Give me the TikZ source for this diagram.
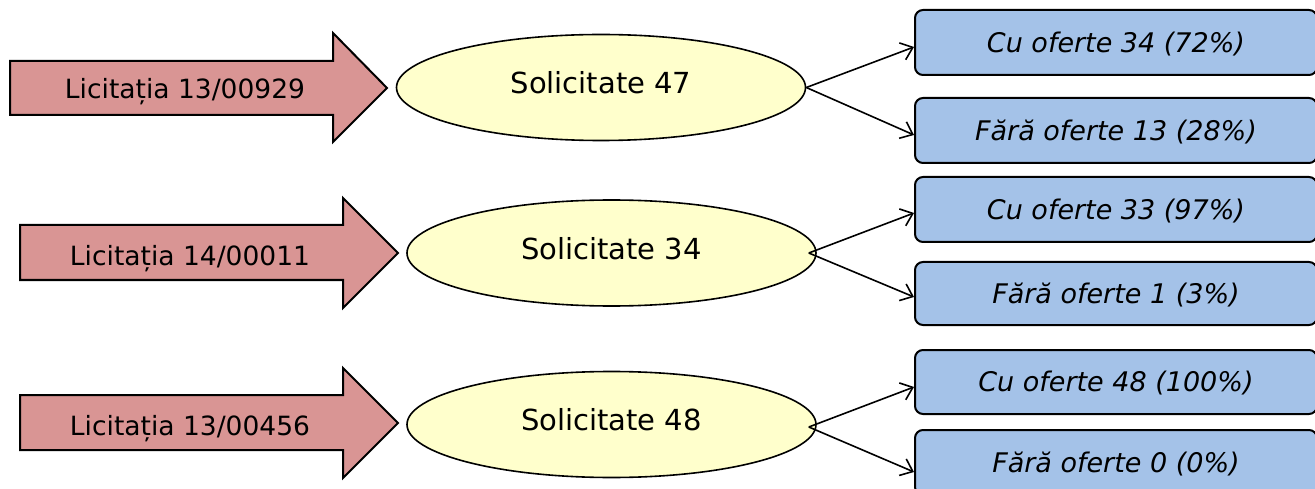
\documentclass[tikz,border=0pt]{standalone}
\usepackage{fontspec}
\setmainfont{DejaVu Sans}
\usetikzlibrary{shapes.geometric,arrows.meta}
\definecolor{arrowfill}{HTML}{D99594}
\definecolor{ellfill}{HTML}{FFFFCC}
\definecolor{boxfill}{HTML}{A4C2E8}
\tikzset{
  bigarrow/.style={draw=black, line width=2pt, fill=arrowfill, line join=miter},
  arrowtext/.style={inner sep=0pt, font=\fontsize{26.5}{30}\selectfont, text height=19.3pt, text depth=0pt},
  ellnode/.style={ellipse, draw=black, line width=1.6pt, fill=ellfill, inner sep=0pt,
    minimum width=409pt, minimum height=106pt,
    font=\fontsize{29}{32}\selectfont, text height=21.1pt, text depth=9pt},
  resbox/.style={draw=black, line width=2pt, fill=boxfill, rounded corners=8pt, inner sep=0pt,
    minimum width=402pt, minimum height=65pt,
    font=\fontsize{27}{30}\selectfont\itshape, text height=19.7pt, text depth=0pt},
  conn/.style={draw=black, line width=1.6pt, -{Straight Barb[length=11pt,width=18pt,line width=1.6pt]}}
}
\begin{document}
\begin{tikzpicture}[x=1pt,y=-1pt]
\useasboundingbox (0,0) rectangle (1315,489);
\clip (0,0) rectangle (1315,489);
% row 1
\draw[bigarrow] (10,61) -- (333,61) -- (333,33) -- (387,88) -- (333,142) -- (333,115) -- (10,115) -- cycle;
\node[arrowtext] (t1) at (185,89) {Licitația 13/00929};
\node[ellnode] (e1) at (601,87.5) {Solicitate 47};
\node[resbox] (b1a) at (1116,42.5) {Cu oferte 34 (72\%)};
\node[resbox] (b1b) at (1116,130.5) {Fără oferte 13 (28\%)};
\draw[conn] (e1.east) -- ([yshift=-4.5pt]b1a.west);
\draw[conn] (e1.east) -- ([yshift=-4.5pt]b1b.west);
% row 2
\draw[bigarrow] (20,225) -- (343,225) -- (343,198) -- (398,253) -- (343,308) -- (343,280) -- (20,280) -- cycle;
\node[arrowtext] (t2) at (190,255.5) {Licitația 14/00011};
\node[ellnode] (e2) at (611.5,253) {Solicitate 34};
\node[resbox] (b2a) at (1116,209.5) {Cu oferte 33 (97\%)};
\node[resbox, minimum height=63pt] (b2b) at (1116,293.5) {Fără oferte 1 (3\%)};
\draw[conn] ([xshift=-8pt]e2.east) -- ([yshift=-3.5pt]b2a.west);
\draw[conn] ([xshift=-8pt]e2.east) -- ([yshift=-3.5pt]b2b.west);
% row 3
\draw[bigarrow] (20,395) -- (343,395) -- (343,368) -- (398,423) -- (343,478) -- (343,450) -- (20,450) -- cycle;
\node[arrowtext] (t3) at (190,425.5) {Licitația 13/00456};
\node[ellnode] (e3) at (611.5,424.5) {Solicitate 48};
\node[resbox, minimum height=64pt] (b3a) at (1116,382) {Cu oferte 48 (100\%)};
\node[resbox] (b3b) at (1116,462.5) {Fără oferte 0 (0\%)};
\draw[conn] ([xshift=-8pt,yshift=-2.5pt]e3.east) -- ([yshift=-5pt]b3a.west);
\draw[conn] ([xshift=-8pt,yshift=-2.5pt]e3.east) -- ([yshift=-9.5pt]b3b.west);
\end{tikzpicture}
\end{document}
